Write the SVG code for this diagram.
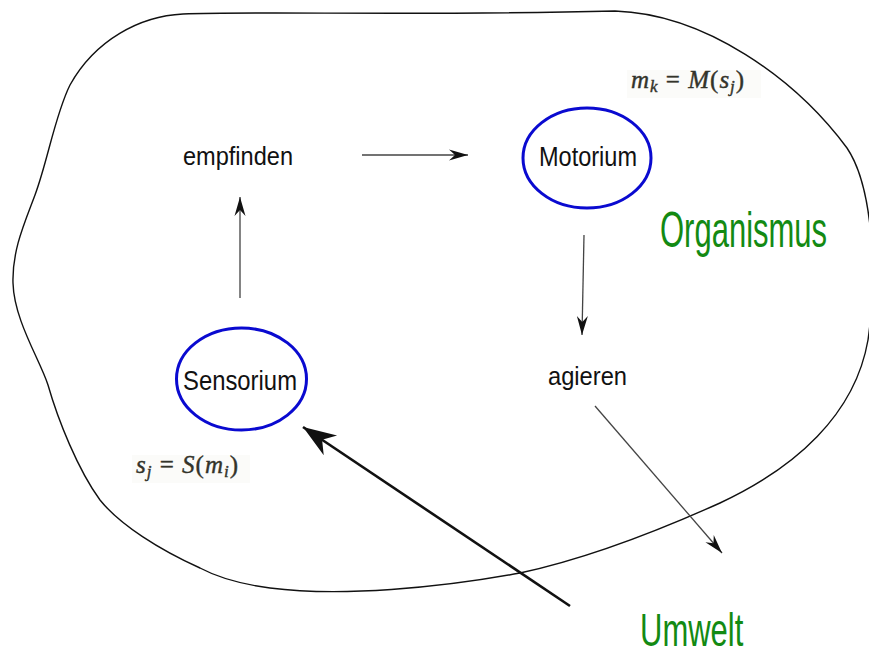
<svg xmlns="http://www.w3.org/2000/svg" width="869" height="657" viewBox="0 0 869 657">
<style>
.lbl{font-family:"Liberation Sans",Arial,sans-serif;fill:#111;}
.grn{font-family:"Liberation Sans",Arial,sans-serif;fill:#138a13;font-size:31px;}
.math{font-family:"Liberation Serif","Times New Roman",serif;font-style:italic;fill:#33332a;font-size:25px;stroke:#33332a;stroke-width:0.4;letter-spacing:1px;}
.mup{font-style:normal;}
.node{fill:none;stroke:#0a0ad0;stroke-width:3;}
.thin{fill:none;stroke:#444;stroke-width:1.3;}
.thick{fill:none;stroke:#111;stroke-width:2.6;}
</style>
<defs>
<marker id="ah" viewBox="-20 -6 20 12" markerWidth="20" markerHeight="12" refX="0" refY="0" orient="auto" markerUnits="userSpaceOnUse">
<path d="M0,0 L-19,-5.5 L-13,0 L-19,5.5 Z" fill="#111"/>
</marker>
<marker id="ahb" viewBox="-34 -13 34 26" markerWidth="34" markerHeight="26" refX="0" refY="0" orient="auto" markerUnits="userSpaceOnUse">
<path d="M0,0 L-33,-12 L-23,0 L-33,12 Z" fill="#111"/>
</marker>
</defs>
<rect width="869" height="657" fill="#fff"/>
<g id="organismus-outline">
<path d="M183,14 C260,11 420,16 615,11 C705,14 795,78 847,148 C872,185 878,270 868,340 C855,415 795,468 720,503 C660,530 590,558 520,573 C440,588 340,597 270,588 C240,584 215,576 200,568 C160,550 120,525 100,500 C78,470 58,420 48,385 C40,360 14,320 13,283 C12,250 25,222 35,195 C48,160 55,115 70,85 C95,40 140,16 183,14 Z" fill="none" stroke="#111" stroke-width="1.4"/>
</g>
<g id="connectors">
<line class="thin" x1="362" y1="155" x2="468" y2="155" marker-end="url(#ah)"/>
<line x1="240" y1="298" x2="240" y2="197" style="fill:none;stroke:#777;stroke-width:1.8" marker-end="url(#ah)"/>
<line class="thin" x1="584" y1="235" x2="582" y2="335" marker-end="url(#ah)"/>
<line class="thin" x1="595" y1="406" x2="722" y2="553" marker-end="url(#ah)"/>
<line class="thick" x1="570" y1="606" x2="303" y2="427" marker-end="url(#ahb)"/>
</g>
<g id="empfinden">
<text class="lbl" x="183" y="165" font-size="25" textLength="110" lengthAdjust="spacingAndGlyphs">empfinden</text>
</g>
<g id="motorium">
<ellipse class="node" cx="587" cy="158" rx="64" ry="50"/>
<text class="lbl" x="539" y="166" font-size="27" textLength="98" lengthAdjust="spacingAndGlyphs">Motorium</text>
</g>
<g id="sensorium">
<ellipse class="node" cx="241.5" cy="379" rx="65" ry="51"/>
<text class="lbl" x="183" y="390" font-size="27" textLength="114" lengthAdjust="spacingAndGlyphs">Sensorium</text>
</g>
<g id="agieren">
<text class="lbl" x="548" y="385" font-size="25" textLength="79" lengthAdjust="spacingAndGlyphs">agieren</text>
</g>
<g id="organismus">
<text class="grn" transform="translate(660,247) scale(1,1.6)" x="0" y="0">Organismus</text>
</g>
<g id="umwelt">
<text class="grn" transform="translate(640,646) scale(1,1.5)" x="0" y="0">Umwelt</text>
</g>
<g id="formula-m">
<rect x="627" y="70" width="134" height="28" fill="#fbfbf9"/>
<text class="math" x="631" y="88">m<tspan font-size="17" dy="4">k</tspan><tspan class="mup" dy="-4"> = </tspan>M<tspan class="mup">(</tspan>s<tspan font-size="17" dy="4">j</tspan><tspan class="mup" dy="-4">)</tspan></text>
</g>
<g id="formula-s">
<rect x="132" y="455" width="118" height="28" fill="#fbfbf9"/>
<text class="math" x="136" y="473">s<tspan font-size="17" dy="4">j</tspan><tspan class="mup" dy="-4"> = </tspan>S<tspan class="mup">(</tspan>m<tspan font-size="17" dy="4">i</tspan><tspan class="mup" dy="-4">)</tspan></text>
</g>
</svg>
